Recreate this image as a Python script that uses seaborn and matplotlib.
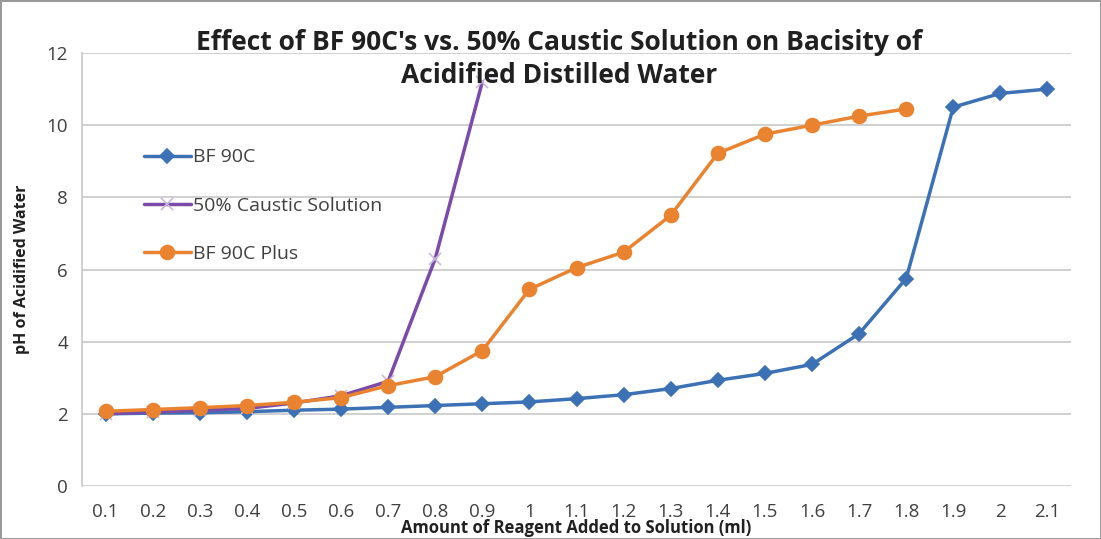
import pandas as pd
import matplotlib
matplotlib.use("Agg")
import matplotlib.pyplot as plt
import seaborn as sns

sns.set_style("white")
plt.rcParams["font.family"] = ["Open Sans", "DejaVu Sans"]

x_labels = ["0.1", "0.2", "0.3", "0.4", "0.5", "0.6", "0.7", "0.8", "0.9", "1",
            "1.1", "1.2", "1.3", "1.4", "1.5", "1.6", "1.7", "1.8", "1.9", "2", "2.1"]
amount = [0.1, 0.2, 0.3, 0.4, 0.5, 0.6, 0.7, 0.8, 0.9, 1.0,
          1.1, 1.2, 1.3, 1.4, 1.5, 1.6, 1.7, 1.8, 1.9, 2.0, 2.1]
bf90c = [2.0, 2.02, 2.03, 2.06, 2.1, 2.13, 2.18, 2.23, 2.28, 2.33,
         2.42, 2.53, 2.7, 2.93, 3.12, 3.37, 4.22, 5.75, 10.5, 10.88, 11.0]
caustic = [2.0, 2.05, 2.1, 2.15, 2.3, 2.5, 2.9, 6.3, 11.2]
bf90c_plus = [2.07, 2.12, 2.17, 2.23, 2.32, 2.45, 2.78, 3.03, 3.75, 5.45,
              6.05, 6.48, 7.5, 9.22, 9.75, 10.0, 10.25, 10.45]

series = [("BF 90C", bf90c, "#3C71B5", "D", 7),
          ("50% Caustic Solution", caustic, "#7A4BA8", "x", 8),
          ("BF 90C Plus", bf90c_plus, "#EA8330", "o", 10)]

fig = plt.figure(figsize=(11.01, 5.39), dpi=100)
fig.patch.set_edgecolor("#9a9a9a")
fig.patch.set_linewidth(2)
ax = fig.add_axes([82 / 1101, 53 / 539, (1071 - 82) / 1101, (486 - 53) / 539])

for name, vals, color, marker, ms in series:
    df = pd.DataFrame({"x": amount[:len(vals)], "y": vals})
    mec = "#c9b6e0" if marker == "x" else color
    sns.lineplot(data=df, x="x", y="y", ax=ax, color=color, linewidth=2.5,
                 marker=marker, markersize=ms, markeredgecolor=mec,
                 markeredgewidth=1.2, label=name)

ax.set_xlim(0.05, 2.15)
ax.set_ylim(0, 12)
ax.set_xticks(amount)
ax.set_xticklabels(x_labels)
ax.set_yticks(range(0, 13, 2))
ax.yaxis.grid(True, color="#c8c8c8", linewidth=1.2)
ax.tick_params(axis="both", labelsize=13.5, colors="#404040", length=0)
ax.tick_params(axis="x", pad=12)
ax.tick_params(axis="y", pad=10)
for s in ["top", "right", "bottom"]:
    ax.spines[s].set_visible(False)
ax.spines["left"].set_color("#c8c8c8")
ax.spines["left"].set_linewidth(1.2)

ax.set_xlabel("Amount of Reagent Added to Solution (ml)", fontsize=12,
              fontweight="bold", color="#202020", labelpad=-1)
ax.set_ylabel("pH of Acidified Water", fontsize=11.5, fontweight="bold",
              color="#202020", labelpad=12)
fig.text(0.508, 0.835, "Effect of BF 90C's vs. 50% Caustic Solution on Bacisity of\nAcidified Distilled Water",
         ha="center", va="bottom", fontsize=19, fontweight="bold",
         color="#202020", linespacing=1.3)

leg = ax.legend(loc="upper left", bbox_to_anchor=(0.045, 0.82), frameon=False,
                fontsize=14, labelspacing=1.55, handlelength=2.4, handletextpad=0.1)
for t in leg.get_texts():
    t.set_color("#404040")

fig.savefig("out.png", dpi=100)
